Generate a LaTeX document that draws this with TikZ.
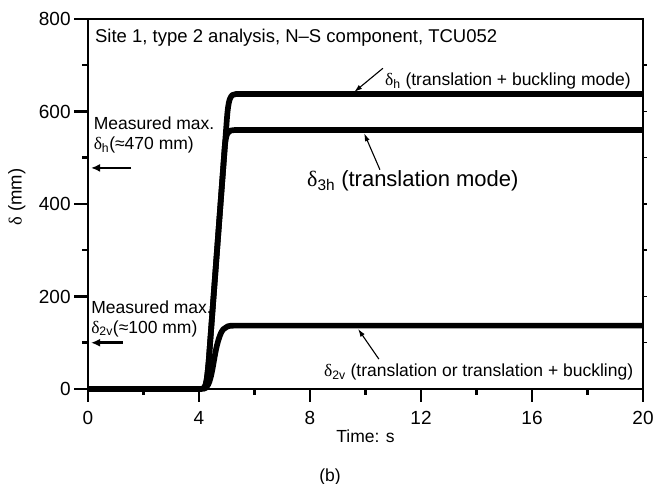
\documentclass[tikz,border=0pt]{standalone}
\usepackage{fontspec}
\setmainfont{Liberation Serif}
\setsansfont{Liberation Sans}
\usetikzlibrary{arrows.meta}
\newcommand{\dl}[1]{{\rmfamily δ}\textsubscript{#1}}

\begin{document}
\begin{tikzpicture}[>=latex,x=27.75pt,y=0.4625pt,inner sep=0pt,
	font=\sffamily\fontsize{17.5}{20}\selectfont,
	curve/.style={line width=5.7pt,line join=round},
	frame/.style={line width=2.8pt},
	tick/.style={line width=2.5pt},
	ticklabel/.style={font=\sffamily\fontsize{19}{22}\selectfont},
	note/.style={line width=1.1pt,-{Latex[length=8pt,width=5pt]}},
	meas/.style={line width=2.5pt,-{Latex[length=9pt,width=8pt]}}]

	\useasboundingbox (-3.1712,-205.41) rectangle (20.3604,841.08);

	% frame and ticks
	\draw[frame] (0,800) -- (20,800) -- (20,0);
	\draw[frame] (0,0) -- (0,800);
	\draw[frame] (0,0) -- (20,0);
	\foreach \v in {0,200,...,800} {
		\draw[tick] (0,\v) -- (-0.505,\v);
		\node[ticklabel,anchor=east] (y\v) at (-0.62,\v) {\v};
	}
	\foreach \v in {100,300,...,700} \draw[tick] (0,\v) -- (-0.22,\v);
	\foreach \t in {0,4,...,20} {
		\draw[tick] (\t,0) -- (\t,-28);
		\node[ticklabel] (x\t) at (\t,-63) {\t};
	}
	\foreach \t in {2,6,...,18} \draw[tick] (\t,0) -- (\t,-14);
	\foreach \v in {100,200,...,700} \draw[line width=1.5pt] (20,\v) -- (20.15,\v);

	\node[rotate=90,font=\sffamily\fontsize{18.5}{22}\selectfont] (ylab) at (-2.56,415) {{\rmfamily δ} (mm)};
	\node (xlab) at (10,-102) {Time: s};
	\node (cap) at (8.72,-190) {(b)};

	% responses
	\draw[curve] (0,0) -- (4.1,0) .. controls (4.25,0) and (4.28,15) .. (4.35,60) -- (5.0,580)
		.. controls (5.06,628) and (5.12,638) .. (5.35,638) -- (20,638);
	\draw[curve] (4.1,0) .. controls (4.25,0) and (4.28,15) .. (4.35,60) -- (4.93,524)
		.. controls (4.98,556) and (5.05,560) .. (5.3,560) -- (20,560);
	\draw[curve] (4.15,0) .. controls (4.45,0) and (4.5,60) .. (4.65,95)
		.. controls (4.8,130) and (4.9,137) .. (5.25,137) -- (20,137);

	\coordinate (ph) at (9.59,642);
	\coordinate (p3h) at (9.95,553);
	\coordinate (p2v) at (9.73,130);
	\coordinate (a470) at (0.11,478);
	\coordinate (t470) at (1.55,478);
	\coordinate (a100) at (0.11,100);
	\coordinate (t100) at (1.26,100);

	% labels
	\node[anchor=west,font=\sffamily\fontsize{18.5}{22}\selectfont] (ttl) at (0.25,759) {Site 1, type 2 analysis, N–S component, TCU052};
	\node[anchor=base west] (lh) at (10.7,657) {\dl{h} (translation + buckling mode)};
	\node[anchor=base west,font=\sffamily\fontsize{22}{26}\selectfont] (l3h) at (7.89,437) {\dl{3h} (translation mode)};
	\node[anchor=base west] (l2v) at (8.5,26) {\dl{2v} (translation or translation + buckling)};
	\node[anchor=west,align=left] (mh) at (0.2,549) {Measured max.\\\dl{h}(≈470 mm)};
	\node[anchor=west,align=left] (m2v) at (0.11,152) {Measured max.\\\dl{2v}(≈100 mm)};

	\draw[note] ([xshift=-2pt,yshift=4pt]lh.north west) -- (ph);
	\draw[note] ([xshift=73pt,yshift=1pt]l3h.north west) -- (p3h);
	\draw[note] ([xshift=55pt,yshift=5pt]l2v.north west) -- (p2v);
	\draw[meas] (t470) -- (a470);
	\draw[meas] (t100) -- (a100);

\end{tikzpicture}
\end{document}
